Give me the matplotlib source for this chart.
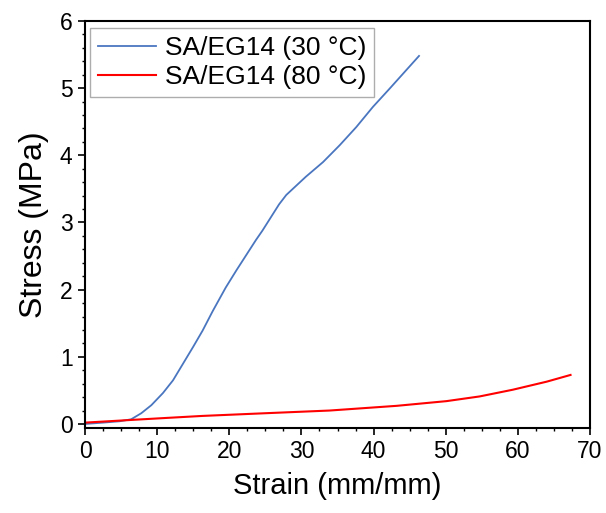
import matplotlib
matplotlib.use("Agg")
import matplotlib.pyplot as plt
from matplotlib.ticker import MultipleLocator

plt.rcParams['font.family'] = ['Liberation Sans', 'DejaVu Sans']

strain_30 = [0, 2.5, 4.8, 6.4, 7.8, 9.2, 10.8, 12.2, 13.6, 15.0, 16.3, 17.7, 19.5, 21.0,
             23.7, 24.6, 26.9, 27.9, 30.6, 33.0, 35.3, 37.6, 39.9, 42.2, 46.3]
stress_30 = [0.0, 0.02, 0.04, 0.07, 0.16, 0.28, 0.46, 0.65, 0.90, 1.15, 1.39, 1.68, 2.03, 2.29,
             2.74, 2.88, 3.27, 3.41, 3.68, 3.90, 4.15, 4.42, 4.72, 4.99, 5.48]

strain_80 = [0, 6.4, 11.3, 16.3, 25.0, 33.9, 43.2, 50.1, 54.7, 59.3, 64.0, 67.3]
stress_80 = [0.02, 0.06, 0.09, 0.12, 0.16, 0.20, 0.27, 0.34, 0.41, 0.51, 0.63, 0.73]

labels = ["SA/EG14 (30 \u00b0C)", "SA/EG14 (80 \u00b0C)"]

fig = plt.figure(figsize=(6.06, 5.13), dpi=100)
ax = fig.add_axes([85/606, 1 - 428/513, 505/606, 407/513])

ax.plot(strain_30, stress_30, color='#4a76c0', lw=1.3, label=labels[0],
        solid_joinstyle='round')
ax.plot(strain_80, stress_80, color='#ff0000', lw=1.5, label=labels[1],
        solid_joinstyle='round')

ax.set_xlim(0, 70)
ax.set_ylim(-0.06, 6)
ax.xaxis.set_major_locator(MultipleLocator(10))
ax.xaxis.set_minor_locator(MultipleLocator(2.5))
ax.yaxis.set_major_locator(MultipleLocator(1))
ax.yaxis.set_minor_locator(MultipleLocator(0.2))
ax.tick_params(which='major', direction='out', length=5, width=1.2, labelsize=16.5, pad=4)
ax.tick_params(which='minor', direction='out', length=2.5, width=1.0)
for s in ax.spines.values():
    s.set_linewidth(1.5)

ax.set_xlabel("Strain (mm/mm)", fontsize=21, labelpad=6)
ax.set_ylabel("Stress (MPa)", fontsize=23, labelpad=8)

leg = ax.legend(loc='upper left', bbox_to_anchor=(0.01, 0.983), fontsize=19,
                frameon=True, fancybox=False, edgecolor='#999999',
                handlelength=2.2, handletextpad=0.34, borderpad=0.3,
                labelspacing=0.2, borderaxespad=0)
leg.get_frame().set_linewidth(1.0)

fig.savefig("out.png", dpi=100)
